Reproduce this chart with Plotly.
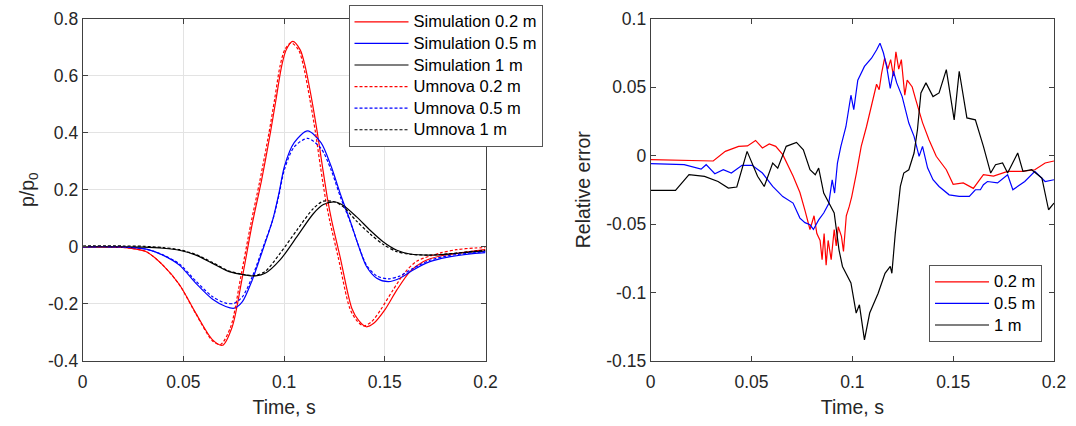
import plotly.graph_objects as go

# ---------------- Left panel data (p/p0 vs time) ----------------
sim02_t = [0, 0.01, 0.02, 0.025, 0.0316, 0.0398, 0.048, 0.0562, 0.0645, 0.0694, 0.0743, 0.0793, 0.0842, 0.0888,
           0.0932, 0.096, 0.0988, 0.101, 0.1043, 0.108, 0.1104, 0.1137, 0.1165, 0.119, 0.1216, 0.1236, 0.1278,
           0.1336, 0.137, 0.1408, 0.1445, 0.150, 0.156, 0.1625, 0.169, 0.1774, 0.1856, 0.1948, 0.2]
sim02_v = [0, 0, -0.002, -0.006, -0.017, -0.064, -0.132, -0.233, -0.326, -0.345, -0.279, -0.105, 0.081, 0.233,
           0.40, 0.517, 0.634, 0.69, 0.72, 0.69, 0.634, 0.517, 0.40, 0.283, 0.166, 0.093, -0.035,
           -0.215, -0.258, -0.28, -0.268, -0.221, -0.151, -0.087, -0.052, -0.032, -0.0235, -0.014, -0.01]

um02_t = [0, 0.01, 0.02, 0.025, 0.0316, 0.0398, 0.048, 0.0562, 0.0645, 0.0685, 0.0735, 0.0785, 0.0835, 0.088,
          0.0925, 0.0953, 0.098, 0.1003, 0.1035, 0.1072, 0.1096, 0.1128, 0.1156, 0.118, 0.1206, 0.1226, 0.1268,
          0.1326, 0.136, 0.1395, 0.1435, 0.148, 0.154, 0.160, 0.166, 0.1774, 0.1856, 0.1948, 0.2]
um02_v = [0, 0, -0.002, -0.006, -0.017, -0.064, -0.133, -0.235, -0.33, -0.342, -0.28, -0.105, 0.081, 0.233,
          0.40, 0.517, 0.634, 0.69, 0.715, 0.69, 0.634, 0.517, 0.40, 0.283, 0.166, 0.093, -0.035,
          -0.215, -0.258, -0.277, -0.262, -0.22, -0.152, -0.09, -0.05, -0.022, -0.01, -0.004, -0.003]

sim05_t = [0, 0.015, 0.023, 0.0316, 0.0398, 0.048, 0.0562, 0.0645, 0.071, 0.0752, 0.0793, 0.0842, 0.0891,
           0.0944, 0.0974, 0.1002, 0.105, 0.1117, 0.1183, 0.1233, 0.1282, 0.1327, 0.1377, 0.141, 0.146,
           0.1517, 0.1575, 0.1641, 0.1724, 0.1807, 0.1948, 0.2]
sim05_v = [0, 0, -0.002, -0.008, -0.029, -0.064, -0.128, -0.184, -0.209, -0.215, -0.192, -0.116, -0.017,
           0.096, 0.186, 0.283, 0.365, 0.406, 0.365, 0.283, 0.18, 0.093, -0.012, -0.07, -0.110,
           -0.122, -0.110, -0.081, -0.052, -0.037, -0.023, -0.02]
um05_v = [0, 0, -0.002, -0.008, -0.028, -0.06, -0.12, -0.175, -0.197, -0.198, -0.175, -0.105, -0.01,
          0.095, 0.18, 0.272, 0.35, 0.38, 0.345, 0.27, 0.17, 0.09, -0.01, -0.065, -0.102,
          -0.112, -0.102, -0.075, -0.047, -0.032, -0.02, -0.017]

sim1_t = [0, 0.02, 0.03, 0.04, 0.048, 0.0562, 0.0645, 0.0727, 0.0809, 0.0859, 0.0908, 0.098, 0.1063, 0.1145,
          0.1195, 0.1253, 0.1294, 0.136, 0.1427, 0.1493, 0.156, 0.1625, 0.1724, 0.1823, 0.1948, 0.2]
sim1_v = [0, 0, -0.001, -0.005, -0.012, -0.029, -0.058, -0.087, -0.099, -0.102, -0.092, -0.046, 0.035, 0.116,
          0.148, 0.157, 0.145, 0.105, 0.058, 0.017, -0.012, -0.025, -0.029, -0.025, -0.017, -0.015]
um1_v = [0.003, 0.003, 0.002, -0.003, -0.01, -0.027, -0.055, -0.085, -0.098, -0.1, -0.085, -0.023, 0.058, 0.134,
         0.16, 0.157, 0.14, 0.09, 0.045, 0.008, -0.017, -0.026, -0.029, -0.024, -0.015, -0.012]

# ---------------- Right panel data (relative error) ----------------
err02_t = [0, 0.02, 0.031, 0.037, 0.0436, 0.048, 0.052, 0.0554, 0.0588, 0.062, 0.0655, 0.0706, 0.074, 0.0765,
           0.079, 0.081, 0.0824, 0.084, 0.085, 0.086, 0.087, 0.088, 0.0895, 0.091, 0.092, 0.093, 0.0946, 0.0956,
           0.097, 0.0985, 0.0997, 0.102, 0.1044, 0.107, 0.1095, 0.112, 0.1133, 0.1145, 0.116, 0.1176, 0.119,
           0.1204, 0.1216, 0.123, 0.1243, 0.126, 0.1272, 0.1297, 0.1314, 0.1348, 0.138, 0.1416, 0.1466, 0.15,
           0.155, 0.16, 0.165, 0.17, 0.177, 0.184, 0.1905, 0.1956, 0.2]
err02_v = [-0.003, -0.0033, -0.004, 0.003, 0.0067, 0.007, 0.011, 0.0055, 0.0084, 0.0067, 0.0006, -0.015, -0.027,
           -0.04, -0.054, -0.044, -0.057, -0.062, -0.076, -0.057, -0.08, -0.062, -0.076, -0.054, -0.066, -0.052,
           -0.059, -0.07, -0.044, -0.037, -0.03, -0.013, 0.0067, 0.021, 0.036, 0.052, 0.048, 0.06, 0.071, 0.063,
           0.07, 0.058, 0.0757, 0.063, 0.07, 0.044, 0.055, 0.05, 0.041, 0.024, 0.0115, -0.0006, -0.0104, -0.021,
           -0.02, -0.024, -0.014, -0.015, -0.0116, -0.0116, -0.0104, -0.0055, -0.004]

err05_t = [0, 0.0166, 0.025, 0.0275, 0.0318, 0.036, 0.040, 0.0453, 0.0503, 0.0554, 0.0605, 0.0655, 0.0706,
           0.074, 0.0765, 0.079, 0.0807, 0.0833, 0.0858, 0.0883, 0.09, 0.0912, 0.0926, 0.0943, 0.0968, 0.0993,
           0.1007, 0.1027, 0.106, 0.1095, 0.112, 0.1137, 0.1154, 0.117, 0.1188, 0.1204, 0.122, 0.1247, 0.128,
           0.1306, 0.1331, 0.1348, 0.1373, 0.140, 0.143, 0.148, 0.153, 0.158, 0.161, 0.1635, 0.165, 0.167,
           0.172, 0.177, 0.1796, 0.1855, 0.1905, 0.1956, 0.2]
err05_v = [-0.006, -0.0067, -0.01, -0.0067, -0.0133, -0.0104, -0.0128, -0.0072, -0.0072, -0.0128, -0.0226,
           -0.03, -0.0347, -0.0457, -0.049, -0.0506, -0.054, -0.047, -0.042, -0.035, -0.0177, -0.0274, -0.0055,
           0.0067, 0.021, 0.044, 0.0335, 0.055, 0.065, 0.071, 0.077, 0.082, 0.075, 0.065, 0.049, 0.0615, 0.053,
           0.043, 0.0237, 0.014, -0.0006, 0.0067, -0.009, -0.0177, -0.0226, -0.0287, -0.0299, -0.0299, -0.025,
           -0.025, -0.0213, -0.019, -0.020, -0.014, -0.025, -0.019, -0.0116, -0.019, -0.0177]

err1_t = [0, 0.0123, 0.019, 0.0267, 0.0334, 0.0385, 0.0427, 0.0478, 0.053, 0.0563, 0.0605, 0.063, 0.0672,
          0.0723, 0.0757, 0.079, 0.0816, 0.0833, 0.0858, 0.0883, 0.091, 0.0934, 0.0951, 0.0993, 0.1019, 0.1035,
          0.106, 0.1086, 0.1128, 0.1162, 0.1188, 0.1196, 0.1213, 0.1238, 0.1255, 0.128, 0.1306, 0.1323, 0.134,
          0.1365, 0.140, 0.143, 0.1466, 0.1505, 0.153, 0.1568, 0.161, 0.165, 0.1686, 0.171, 0.1745, 0.177,
          0.182, 0.1846, 0.1889, 0.194, 0.1973, 0.2]
err1_v = [-0.0255, -0.0255, -0.014, -0.0152, -0.019, -0.0238, -0.023, 0.003, -0.0152, -0.0226, -0.0055, -0.0092,
          0.0067, 0.0096, 0.0042, -0.0104, -0.014, -0.0092, -0.0274, -0.035, -0.042, -0.069, -0.081, -0.093,
          -0.115, -0.109, -0.1346, -0.115, -0.1005, -0.086, -0.081, -0.086, -0.0567, -0.0226, -0.0128, -0.0104,
          0.0018, 0.019, 0.0457, 0.053, 0.043, 0.0457, 0.0627, 0.026, 0.0615, 0.0274, 0.026, 0.0067, -0.0128,
          -0.0067, -0.0055, -0.0128, 0.0018, -0.0116, -0.0104, -0.0165, -0.0396, -0.0347]

# ---------------- Tick labels ----------------
x_ticks = [0, 0.05, 0.1, 0.15, 0.2]
x_ticktext = ["0", "0.05", "0.1", "0.15", "0.2"]
yl_ticks = [-0.4, -0.2, 0, 0.2, 0.4, 0.6, 0.8]
yl_ticktext = ["-0.4", "-0.2", "0", "0.2", "0.4", "0.6", "0.8"]
yr_ticks = [-0.15, -0.1, -0.05, 0, 0.05, 0.1]
yr_ticktext = ["-0.15", "-0.1", "-0.05", "0", "0.05", "0.1"]

RED, BLUE, BLACK = "#ff0000", "#0000ff", "#000000"
FONT = "Liberation Sans, Arial, sans-serif"
AXC = "#404040"
TXT = "#262626"
DASH = "3px,2px"
LW = 1.2


def leg(name):
    return '<span style="font-size:16.5px">' + name + "</span>"


fig = go.Figure()

left = [
    ("Simulation 0.2 m", sim02_t, sim02_v, RED, "solid"),
    ("Simulation 0.5 m", sim05_t, sim05_v, BLUE, "solid"),
    ("Simulation 1 m", sim1_t, sim1_v, BLACK, "solid"),
    ("Umnova 0.2 m", um02_t, um02_v, RED, DASH),
    ("Umnova 0.5 m", sim05_t, um05_v, BLUE, DASH),
    ("Umnova 1 m", sim1_t, um1_v, BLACK, DASH),
]
for name, t, v, c, d in left:
    fig.add_trace(go.Scatter(x=t, y=v, mode="lines", name=leg(name), xaxis="x", yaxis="y",
                             line=dict(color=c, width=LW, dash=d, shape="spline", smoothing=0.8),
                             legend="legend"))

right = [
    ("0.2 m", err02_t, err02_v, RED),
    ("0.5 m", err05_t, err05_v, BLUE),
    ("1 m", err1_t, err1_v, BLACK),
]
for name, t, v, c in right:
    fig.add_trace(go.Scatter(x=t, y=v, mode="lines", name=leg(name), xaxis="x2", yaxis="y2",
                             line=dict(color=c, width=LW), legend="legend2"))

W, H = 1076, 426
yb, yt = 1 - 361 / H, 1 - 18.5 / H

axis_common = dict(showline=True, linecolor=AXC, linewidth=1, mirror="ticks", ticks="inside",
                   ticklen=5, tickcolor=AXC, zeroline=False, automargin=False,
                   tickfont=dict(family=FONT, size=17.5, color=TXT))
title_font = dict(size=19.5, family=FONT, color=TXT)

fig.update_layout(
    template="none",
    width=W, height=H,
    margin=dict(l=0, r=0, t=0, b=0, autoexpand=False),
    paper_bgcolor="white", plot_bgcolor="white",
    font=dict(family=FONT, color=TXT),
    xaxis=dict(domain=[82.7 / W, 485.5 / W], range=[0, 0.2], tickvals=x_ticks, ticktext=x_ticktext,
               showgrid=True, gridcolor="#e3e3e3", gridwidth=1, anchor="y", ticklabelstandoff=5,
               title=dict(text="Time, s", font=title_font, standoff=9),
               **axis_common),
    yaxis=dict(domain=[yb, yt], range=[-0.4, 0.8], tickvals=yl_ticks, ticktext=yl_ticktext,
               showgrid=True, gridcolor="#e3e3e3", gridwidth=1, anchor="x",
               title=dict(text="p/p<sub>0</sub>", font=title_font, standoff=8),
               **axis_common),
    xaxis2=dict(domain=[650.7 / W, 1054 / W], range=[0, 0.2], tickvals=x_ticks, ticktext=x_ticktext,
                showgrid=False, anchor="y2", ticklabelstandoff=5,
                title=dict(text="Time, s", font=title_font, standoff=9),
                **axis_common),
    yaxis2=dict(domain=[yb, yt], range=[-0.15, 0.1], tickvals=yr_ticks, ticktext=yr_ticktext,
                showgrid=False, anchor="x2",
                title=dict(text="Relative error", font=title_font, standoff=10),
                **axis_common),
    legend=dict(x=348.5 / W, y=1 - 5 / H, xanchor="left", yanchor="top",
                bgcolor="white", bordercolor="#555555", borderwidth=1,
                font=dict(family=FONT, size=14.3, color="#000000"), itemwidth=54,
                tracegroupgap=0),
    legend2=dict(x=1042 / W, y=1 - 342 / H, xanchor="right", yanchor="bottom",
                 bgcolor="white", bordercolor="#555555", borderwidth=1,
                 font=dict(family=FONT, size=14.3, color="#000000"), itemwidth=54),
    showlegend=True,
)

fig.write_html("out.html")
